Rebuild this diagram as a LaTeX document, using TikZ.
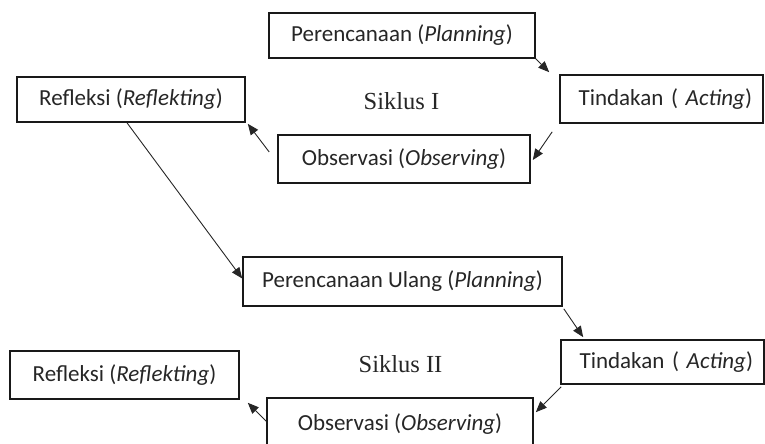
\documentclass[tikz,border=0pt]{standalone}
\usepackage{fontspec}
\newfontfamily\boxfont{Carlito}
\newfontfamily\cycfont{Liberation Serif}
\usetikzlibrary{arrows.meta,calc}
\begin{document}
\begin{tikzpicture}[x=1pt,y=-1pt,
  box/.style={draw=black!90, line width=1.6pt, text=black!85,
    font=\boxfont\fontsize{23}{27}\selectfont, inner sep=0pt},
  rbox/.style={box, text width=181pt, inner xsep=11pt, align=right},
  arr/.style={line width=0.9pt, draw=black!85, -{Triangle[length=11pt,width=9pt]}},
  cyc/.style={font=\cycfont\fontsize{24.5}{28}\selectfont, text=black!85}]
\useasboundingbox (0,0) rectangle (765,444);
\clip (0,0) rectangle (765,444);
% Siklus I
\node[box, minimum width=266pt, minimum height=45pt] (P1) at (402,35.5) {Perencanaan (\textit{Planning})};
\node[rbox, minimum height=48pt] (T1) at (661.5,99) {Tindakan ( \textit{Acting})};
\node[box, minimum width=252pt, minimum height=48pt] (O1) at (404,159) {Observasi (\textit{Observing})};
\node[box, minimum width=228pt, minimum height=45pt] (R1) at (131,99.5) {Refleksi (\textit{Reflekting})};
\node[cyc] (S1) at (401.5,101) {Siklus I};
% Siklus II
\node[box, minimum width=319pt, minimum height=49pt] (PU) at (402.5,281.5) {Perencanaan Ulang (\textit{Planning})};
\node[rbox, minimum height=44pt] (T2) at (662.5,362) {Tindakan ( \textit{Acting})};
\node[box, minimum width=266pt, minimum height=52pt] (O2) at (400,424) {Observasi (\textit{Observing})};
\node[box, minimum width=229pt, minimum height=48pt] (R2) at (124.5,375) {Refleksi (\textit{Reflekting})};
\node[cyc] (S2) at (400.5,364) {Siklus II};
% connectors
\draw[arr] (P1.south east) -- ($(T1.north west)+(-10,-2)$);
\draw[arr] ($(T1.south west)+(-7,8)$) -- ($(O1.east)+(2,1)$);
\draw[arr] ($(O1.west)+(-8,-7)$) -- ($(R1.south east)+(2,1)$);
\draw[arr] ($(R1.south)+(-4,0)$) -- ($(PU.west)+(0,-3)$);
\draw[arr] ($(PU.south east)+(1,2)$) -- ($(T2.north west)+(23,-2)$);
\draw[arr] ($(T2.south west)+(1,2)$) -- ($(O2.north east)+(2,15)$);
\draw[arr] ($(O2.north west)+(0,24)$) -- ($(R2.south east)+(8,3)$);
\end{tikzpicture}
\end{document}
